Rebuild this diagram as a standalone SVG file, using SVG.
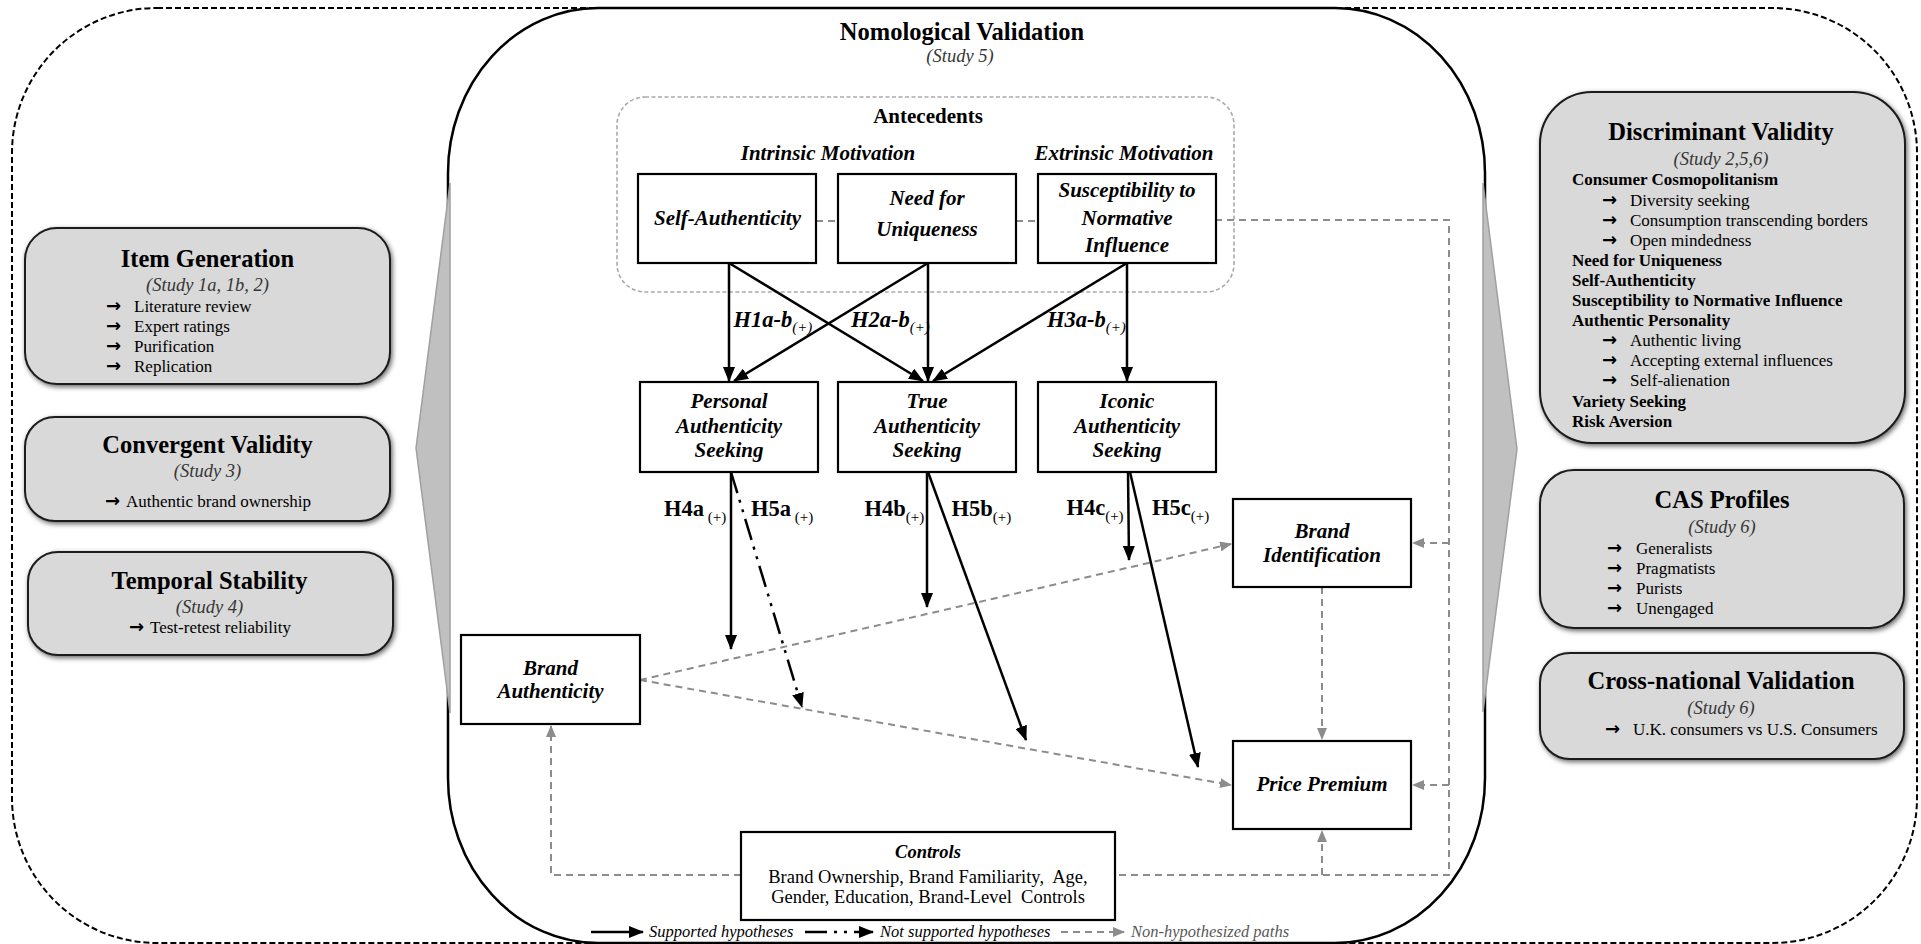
<svg xmlns="http://www.w3.org/2000/svg" width="1921" height="944" viewBox="0 0 1921 944">
<defs>
<style>
text{font-family:'Liberation Serif','Times New Roman',serif;fill:#000}
.title{font-weight:bold;font-size:24.5px;text-anchor:middle}
.study{font-style:italic;font-size:18.5px;fill:#363636;text-anchor:middle}
.bul{font-size:17px}
.bb{font-size:17px;font-weight:bold}
.arr{font-family:'DejaVu Sans',sans-serif;font-weight:bold;font-size:18px}
.node{font-weight:bold;font-style:italic;font-size:21px;text-anchor:middle}
.hi{font-weight:bold;font-style:italic;font-size:22.5px}
.hb{font-weight:bold;font-size:22.5px}
.sub{font-size:15px;font-style:normal;font-weight:normal}
.subi{font-size:15px;font-style:italic;font-weight:normal}
.head{font-weight:bold;font-size:21px;text-anchor:middle}
.headi{font-weight:bold;font-style:italic;font-size:21px;text-anchor:middle}
.ctl{font-size:18.5px;text-anchor:middle;white-space:pre}
.leg{font-style:italic;font-size:16.5px}
.panel{fill:#d9d9d9;stroke:#1a1a1a;stroke-width:2;filter:url(#sh)}
.box{fill:#fff;stroke:#000;stroke-width:2.2}
.s{fill:none;stroke:#000;stroke-width:2.5;marker-end:url(#ab)}
.dd{fill:none;stroke:#000;stroke-width:2.5;stroke-dasharray:22,7,3,7,3,7;marker-end:url(#ab)}
.g{fill:none;stroke:#8c8c8c;stroke-width:2;stroke-dasharray:7,5}
.ga{fill:none;stroke:#8c8c8c;stroke-width:2;stroke-dasharray:7,5;marker-end:url(#ag)}
.chev{fill:#c0c0c0;stroke:#a0a0a0;stroke-width:1.5}
</style>
<filter id="sh" x="-10%" y="-10%" width="120%" height="125%">
<feDropShadow dx="1.5" dy="2" stdDeviation="2.5" flood-color="#000" flood-opacity="0.6"/>
</filter>
<marker id="ab" markerUnits="userSpaceOnUse" markerWidth="15" markerHeight="12" refX="14" refY="6" orient="auto">
<path d="M0,0 L15,6 L0,12 z" fill="#000"/>
</marker>
<marker id="ag" markerUnits="userSpaceOnUse" markerWidth="12" markerHeight="10" refX="11" refY="5" orient="auto">
<path d="M0,0 L12,5 L0,10 z" fill="#8c8c8c"/>
</marker>
</defs>
<rect width="1921" height="944" fill="#fff"/>

<!-- outer dashed frame -->
<rect x="12" y="8" width="1905" height="935" rx="145" ry="145" fill="none" stroke="#000" stroke-width="2" stroke-dasharray="6,3"/>

<!-- central frame -->
<g id="nomological">
<rect x="448" y="8" width="1037" height="935" rx="150" ry="165" fill="#fff" stroke="#000" stroke-width="2.5"/>
<polygon class="chev" points="450,183 416,448 450,713"/>
<polygon class="chev" points="1483,183 1517,449 1483,712"/>
<text class="title" x="962" y="40">Nomological Validation</text>
<text class="study" x="960" y="62">(Study 5)</text>
</g>

<!-- left panels -->
<g id="item-generation">
<rect class="panel" x="25" y="228" width="365" height="156" rx="32"/>
<text class="title" x="207.5" y="267">Item Generation</text>
<text class="study" x="207.5" y="291">(Study 1a, 1b, 2)</text>
<text class="arr" x="106" y="312">→</text><text class="bul" x="134" y="312">Literature review</text>
<text class="arr" x="106" y="332">→</text><text class="bul" x="134" y="332">Expert ratings</text>
<text class="arr" x="106" y="352">→</text><text class="bul" x="134" y="352">Purification</text>
<text class="arr" x="106" y="372">→</text><text class="bul" x="134" y="372">Replication</text>
</g>
<g id="convergent-validity">
<rect class="panel" x="25" y="417" width="365" height="104" rx="30"/>
<text class="title" x="207.5" y="453">Convergent Validity</text>
<text class="study" x="207.5" y="477">(Study 3)</text>
<text class="arr" x="105" y="507">→</text><text class="bul" x="126" y="507">Authentic brand ownership</text>
</g>
<g id="temporal-stability">
<rect class="panel" x="28" y="552" width="365" height="103" rx="30"/>
<text class="title" x="209.5" y="589">Temporal Stability</text>
<text class="study" x="209.5" y="613">(Study 4)</text>
<text class="arr" x="129" y="633">→</text><text class="bul" x="150" y="633">Test-retest reliability</text>
</g>

<!-- right panels -->
<g id="discriminant-validity">
<rect class="panel" x="1540" y="92" width="365" height="351" rx="52"/>
<text class="title" x="1721" y="140">Discriminant Validity</text>
<text class="study" x="1721" y="165">(Study 2,5,6)</text>
<text class="bb" x="1572" y="185">Consumer Cosmopolitanism</text>
<text class="arr" x="1602" y="206">→</text><text class="bul" x="1630" y="206">Diversity seeking</text>
<text class="arr" x="1602" y="226">→</text><text class="bul" x="1630" y="226">Consumption transcending borders</text>
<text class="arr" x="1602" y="246">→</text><text class="bul" x="1630" y="246">Open mindedness</text>
<text class="bb" x="1572" y="266">Need for Uniqueness</text>
<text class="bb" x="1572" y="286">Self-Authenticity</text>
<text class="bb" x="1572" y="306">Susceptibility to Normative Influence</text>
<text class="bb" x="1572" y="326">Authentic Personality</text>
<text class="arr" x="1602" y="346">→</text><text class="bul" x="1630" y="346">Authentic living</text>
<text class="arr" x="1602" y="366">→</text><text class="bul" x="1630" y="366">Accepting external influences</text>
<text class="arr" x="1602" y="386">→</text><text class="bul" x="1630" y="386">Self-alienation</text>
<text class="bb" x="1572" y="407">Variety Seeking</text>
<text class="bb" x="1572" y="427">Risk Aversion</text>
</g>
<g id="cas-profiles">
<rect class="panel" x="1540" y="470" width="364" height="158" rx="34"/>
<text class="title" x="1722" y="508">CAS Profiles</text>
<text class="study" x="1722" y="533">(Study 6)</text>
<text class="arr" x="1607" y="554">→</text><text class="bul" x="1636" y="554">Generalists</text>
<text class="arr" x="1607" y="574">→</text><text class="bul" x="1636" y="574">Pragmatists</text>
<text class="arr" x="1607" y="594">→</text><text class="bul" x="1636" y="594">Purists</text>
<text class="arr" x="1607" y="614">→</text><text class="bul" x="1636" y="614">Unengaged</text>
</g>
<g id="cross-national-validation">
<rect class="panel" x="1540" y="653" width="364" height="106" rx="30"/>
<text class="title" x="1721" y="689">Cross-national Validation</text>
<text class="study" x="1721" y="714">(Study 6)</text>
<text class="arr" x="1605" y="735">→</text><text class="bul" x="1633" y="735">U.K. consumers vs U.S. Consumers</text>
</g>

<!-- antecedents group -->
<g id="antecedents">
<rect x="617" y="97" width="617" height="195" rx="28" ry="28" fill="none" stroke="#ababab" stroke-width="1.6" stroke-dasharray="4,2.5"/>
<text class="head" x="928" y="123">Antecedents</text>
<text class="headi" x="828" y="160">Intrinsic Motivation</text>
<text class="headi" x="1124" y="160">Extrinsic Motivation</text>
</g>

<!-- connectors -->
<g id="connectors">
<path class="g" d="M816,221 L838,221"/>
<path class="g" d="M1016,221 L1038,221"/>
<path class="g" d="M1215,220 L1449,220 L1449,875 L1115,875"/>
<path class="ga" d="M1449,543 L1413,543"/>
<path class="ga" d="M1449,785 L1413,785"/>
<path class="ga" d="M741,875 L551,875 L551,726"/>
<path class="ga" d="M1322,875 L1322,831"/>
<path class="ga" d="M640,680 L1231,544"/>
<path class="ga" d="M640,680 L1231,785"/>
<path class="ga" d="M1322,587 L1322,739"/>

<path class="s" d="M729,263 L729,381"/>
<path class="s" d="M729,263 L923,381"/>
<path class="s" d="M928,263 L734,381"/>
<path class="s" d="M928,263 L928,381"/>
<path class="s" d="M1127,263 L933,381"/>
<path class="s" d="M1127,263 L1127,381"/>
<path class="s" d="M731,472 L731,649"/>
<path class="dd" d="M731,472 L802,707"/>
<path class="s" d="M927,472 L927,607"/>
<path class="s" d="M928,472 L1026,740"/>
<path class="s" d="M1128,472 L1129,560"/>
<path class="s" d="M1130,472 L1198,767"/>

<text class="hi" x="733.5" y="327">H1a-b<tspan class="subi" dy="5">(+)</tspan></text>
<text class="hi" x="851" y="327">H2a-b<tspan class="subi" dy="5">(+)</tspan></text>
<text class="hi" x="1047" y="327">H3a-b<tspan class="subi" dy="5">(+)</tspan></text>
<text class="hb" x="664" y="516">H4a<tspan class="sub" dy="6"> (+)</tspan></text>
<text class="hb" x="751" y="516">H5a<tspan class="sub" dy="6"> (+)</tspan></text>
<text class="hb" x="864.5" y="516">H4b<tspan class="sub" dy="6">(+)</tspan></text>
<text class="hb" x="951.6" y="516">H5b<tspan class="sub" dy="6">(+)</tspan></text>
<text class="hb" x="1066.4" y="515">H4c<tspan class="sub" dy="6">(+)</tspan></text>
<text class="hb" x="1152" y="515">H5c<tspan class="sub" dy="6">(+)</tspan></text>
</g>

<!-- nodes -->
<g id="self-authenticity">
<rect class="box" x="638" y="174" width="178" height="89"/>
<text class="node" x="727.5" y="225">Self-Authenticity</text>
</g>
<g id="need-for-uniqueness">
<rect class="box" x="838" y="174" width="178" height="89"/>
<text class="node" x="927" y="205">Need for</text>
<text class="node" x="927" y="236">Uniqueness</text>
</g>
<g id="susceptibility">
<rect class="box" x="1038" y="174" width="178" height="89"/>
<text class="node" x="1127" y="197">Susceptibility to</text>
<text class="node" x="1127" y="225">Normative</text>
<text class="node" x="1127" y="252">Influence</text>
</g>
<g id="personal-authenticity-seeking">
<rect class="box" x="640" y="382" width="178" height="90"/>
<text class="node" x="729" y="408">Personal</text>
<text class="node" x="729" y="433">Authenticity</text>
<text class="node" x="729" y="457">Seeking</text>
</g>
<g id="true-authenticity-seeking">
<rect class="box" x="838" y="382" width="178" height="90"/>
<text class="node" x="927" y="408">True</text>
<text class="node" x="927" y="433">Authenticity</text>
<text class="node" x="927" y="457">Seeking</text>
</g>
<g id="iconic-authenticity-seeking">
<rect class="box" x="1038" y="382" width="178" height="90"/>
<text class="node" x="1127" y="408">Iconic</text>
<text class="node" x="1127" y="433">Authenticity</text>
<text class="node" x="1127" y="457">Seeking</text>
</g>
<g id="brand-authenticity">
<rect class="box" x="461" y="635" width="179" height="89"/>
<text class="node" x="550.5" y="675">Brand</text>
<text class="node" x="550.5" y="698">Authenticity</text>
</g>
<g id="brand-identification">
<rect class="box" x="1233" y="499" width="178" height="88"/>
<text class="node" x="1322" y="538">Brand</text>
<text class="node" x="1322" y="562">Identification</text>
</g>
<g id="price-premium">
<rect class="box" x="1233" y="741" width="178" height="88"/>
<text class="node" x="1322" y="791">Price Premium</text>
</g>
<g id="controls">
<rect class="box" x="741" y="832" width="374" height="88"/>
<text class="ctl" x="928" y="858" font-weight="bold" font-style="italic">Controls</text>
<text class="ctl" x="928" y="883" xml:space="preserve">Brand Ownership, Brand Familiarity,  Age,</text>
<text class="ctl" x="928" y="903" xml:space="preserve">Gender, Education, Brand-Level  Controls</text>
</g>

<!-- legend -->
<g id="legend">
<path class="s" d="M591,932 L643,932"/>
<text class="leg" x="649" y="937">Supported hypotheses</text>
<path class="dd" d="M805,932 L873,932"/>
<text class="leg" x="880" y="937">Not supported hypotheses</text>
<path class="ga" d="M1061,932 L1124,932"/>
<text class="leg" x="1131" y="937" style="fill:#595959">Non-hypothesized paths</text>
</g>
</svg>
